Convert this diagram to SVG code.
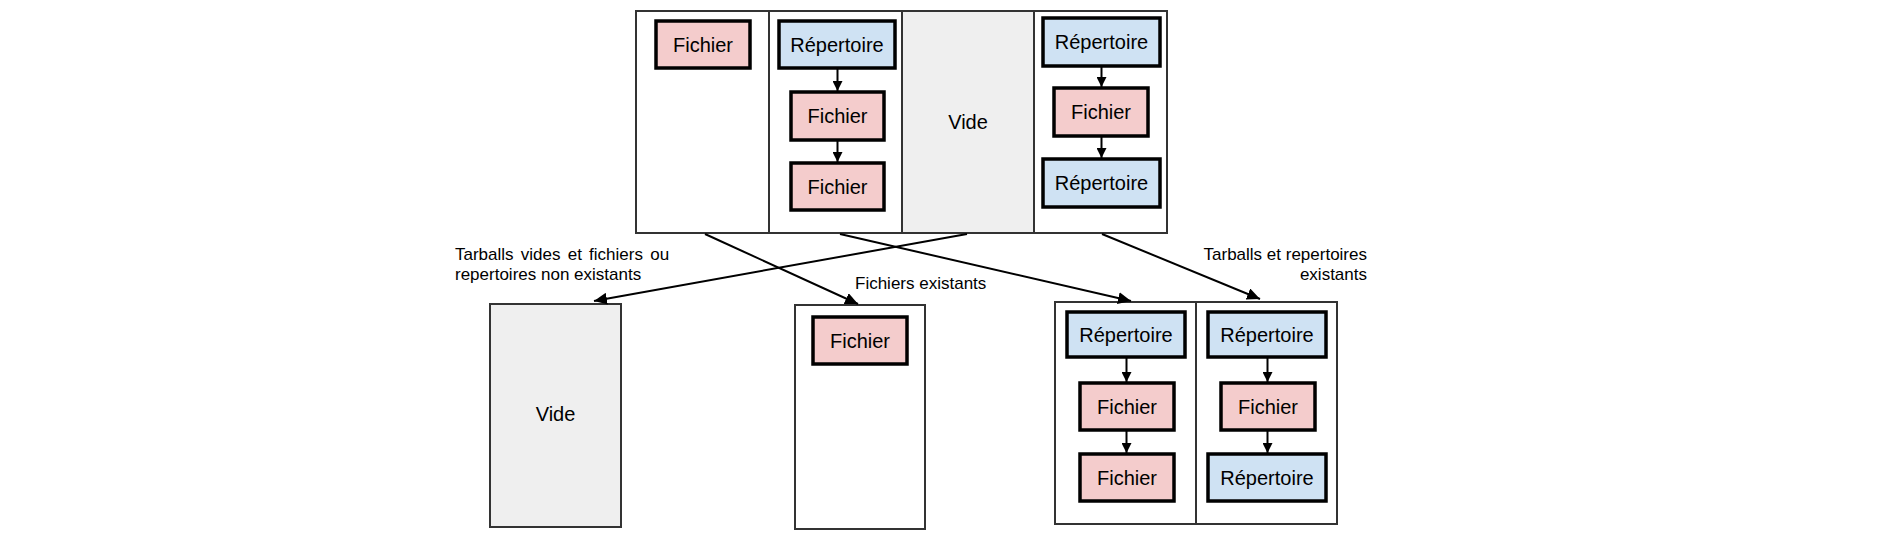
<svg xmlns="http://www.w3.org/2000/svg" width="1894" height="540" viewBox="0 0 1894 540">
<style>
.frame{fill:#ffffff;stroke:#333333;stroke-width:2}
.empty{fill:#efefef;stroke:#333333;stroke-width:2}
.div{stroke:#333333;stroke-width:2}
.fic{fill:#f4cccc;stroke:#000000;stroke-width:3.5}
.rep{fill:#cfe2f3;stroke:#000000;stroke-width:3.5}
.lbl{font-family:"Liberation Sans",Arial,sans-serif;font-size:20px;fill:#000000;text-anchor:middle}
.note{font-family:"Liberation Sans",Arial,sans-serif;font-size:17px;fill:#000000}
.arr{stroke:#000000;stroke-width:2;fill:none}
</style>
<defs>
<marker id="ah" markerUnits="userSpaceOnUse" markerWidth="14" markerHeight="12" viewBox="0 0 14 12" refX="13" refY="6" orient="auto">
<path d="M0,0 L13,6 L0,12 Z" fill="#000000"/>
</marker>
<marker id="sh" markerUnits="userSpaceOnUse" markerWidth="11" markerHeight="10" viewBox="0 0 11 10" refX="10" refY="5" orient="auto">
<path d="M0,0 L10,5 L0,10 Z" fill="#000000"/>
</marker>
</defs>

<g id="top-tarball">
<rect class="frame" x="636" y="11" width="531" height="222"/>
<rect class="empty" x="902" y="11" width="132" height="222"/>
<line class="div" x1="769" y1="11" x2="769" y2="233"/>
<text class="lbl" x="968" y="129">Vide</text>
</g>

<g id="top-col1">
<rect class="fic" x="656" y="21" width="94" height="47"/>
<text class="lbl" x="703" y="51.5">Fichier</text>
</g>

<g id="top-col2">
<rect class="rep" x="779" y="21" width="116" height="47"/>
<text class="lbl" x="837" y="51.5">Répertoire</text>
<rect class="fic" x="791" y="92" width="93" height="48"/>
<text class="lbl" x="837.5" y="123">Fichier</text>
<rect class="fic" x="791" y="163" width="93" height="47"/>
<text class="lbl" x="837.5" y="193.5">Fichier</text>
</g>

<g id="top-col4">
<rect class="rep" x="1043" y="18" width="117" height="48"/>
<text class="lbl" x="1101.5" y="49">Répertoire</text>
<rect class="fic" x="1054" y="88" width="94" height="48"/>
<text class="lbl" x="1101" y="119">Fichier</text>
<rect class="rep" x="1043" y="159" width="117" height="48"/>
<text class="lbl" x="1101.5" y="190">Répertoire</text>
</g>

<g id="bottom-vide">
<rect class="empty" x="490" y="304" width="131" height="223"/>
<text class="lbl" x="555.5" y="421">Vide</text>
</g>

<g id="bottom-fichiers">
<rect class="frame" x="795" y="305" width="130" height="224"/>
<rect class="fic" x="813" y="317" width="94" height="47"/>
<text class="lbl" x="860" y="347.5">Fichier</text>
</g>

<g id="bottom-repertoires">
<rect class="frame" x="1055" y="302" width="282" height="222"/>
<line class="div" x1="1196" y1="302" x2="1196" y2="524"/>
<rect class="rep" x="1067" y="312" width="118" height="45"/>
<text class="lbl" x="1126" y="341.5">Répertoire</text>
<rect class="fic" x="1080" y="383" width="94" height="47"/>
<text class="lbl" x="1127" y="413.5">Fichier</text>
<rect class="fic" x="1080" y="454" width="94" height="47"/>
<text class="lbl" x="1127" y="484.5">Fichier</text>
<rect class="rep" x="1208" y="312" width="118" height="45"/>
<text class="lbl" x="1267" y="341.5">Répertoire</text>
<rect class="fic" x="1221" y="383" width="94" height="47"/>
<text class="lbl" x="1268" y="413.5">Fichier</text>
<rect class="rep" x="1208" y="454" width="118" height="47"/>
<text class="lbl" x="1267" y="484.5">Répertoire</text>
</g>

<g id="connectors">
<line class="arr" x1="837.5" y1="69" x2="837.5" y2="91" marker-end="url(#sh)"/>
<line class="arr" x1="837.5" y1="141" x2="837.5" y2="162" marker-end="url(#sh)"/>
<line class="arr" x1="1101.5" y1="67" x2="1101.5" y2="87" marker-end="url(#sh)"/>
<line class="arr" x1="1101.5" y1="137" x2="1101.5" y2="158" marker-end="url(#sh)"/>
<line class="arr" x1="1126.5" y1="358" x2="1126.5" y2="382" marker-end="url(#sh)"/>
<line class="arr" x1="1126.5" y1="431" x2="1126.5" y2="453" marker-end="url(#sh)"/>
<line class="arr" x1="1267.5" y1="358" x2="1267.5" y2="382" marker-end="url(#sh)"/>
<line class="arr" x1="1267.5" y1="431" x2="1267.5" y2="453" marker-end="url(#sh)"/>
<line class="arr" x1="705" y1="234" x2="858" y2="304" marker-end="url(#ah)"/>
<line class="arr" x1="967" y1="234" x2="594" y2="301" marker-end="url(#ah)"/>
<line class="arr" x1="840" y1="234" x2="1131" y2="301" marker-end="url(#ah)"/>
<line class="arr" x1="1102" y1="234" x2="1260" y2="299" marker-end="url(#ah)"/>
</g>

<g id="labels">
<text class="note" x="455" y="260" word-spacing="2.5">Tarballs vides et fichiers ou</text>
<text class="note" x="455" y="280">repertoires non existants</text>
<text class="note" x="855" y="289">Fichiers existants</text>
<text class="note" x="1367" y="260" text-anchor="end">Tarballs et repertoires</text>
<text class="note" x="1367" y="280" text-anchor="end">existants</text>
</g>
</svg>
